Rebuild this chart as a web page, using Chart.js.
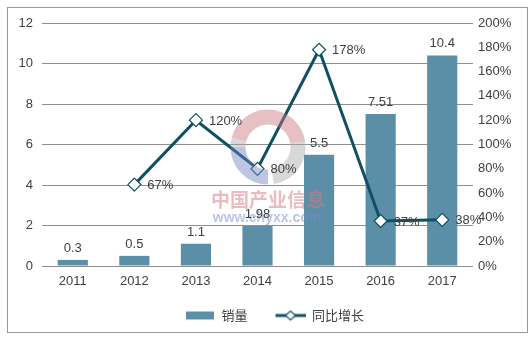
<!DOCTYPE html>
<html>
<head>
<meta charset="utf-8">
<script src="https://cdn.jsdelivr.net/npm/chart.js@4.4.1/dist/chart.umd.min.js"></script>
<style>
  html, body { margin: 0; padding: 0; background: #fff; }
  #wrap { width: 531px; height: 339px; }
</style>
</head>
<body>
<div id="wrap"><canvas id="chart" width="531" height="339"></canvas></div>
<script>
// categories and values
const years = ["2011", "2012", "2013", "2014", "2015", "2016", "2017"];
const sales = [0.3, 0.5, 1.1, 1.98, 5.5, 7.51, 10.4];
const growth = [null, 67, 120, 80, 178, 37, 38];

const barColor = "#5b8fa7";
const lineColor = "#0f5064";
const textColor = "#404040";
const fontFamily = "'Liberation Sans', Arial, sans-serif";

// small swatches for the legend (left part left empty as spacing)
function makeSwatch(kind) {
    const c = document.createElement("canvas");
    c.width = 48;
    c.height = 12;
    const g = c.getContext("2d");
    const x0 = 18;
    if (kind === "bar") {
        g.fillStyle = barColor;
        g.fillRect(x0 + 1, 2, 28, 8);
    } else {
        g.strokeStyle = lineColor;
        g.lineWidth = 3;
        g.beginPath();
        g.moveTo(x0, 6);
        g.lineTo(x0 + 30, 6);
        g.stroke();
        g.fillStyle = "#fff";
        g.lineWidth = 1.2;
        g.beginPath();
        g.moveTo(x0 + 10, 6);
        g.lineTo(x0 + 15, 1.5);
        g.lineTo(x0 + 20, 6);
        g.lineTo(x0 + 15, 10.5);
        g.closePath();
        g.fill();
        g.stroke();
    }
    return c;
}
const swatches = [makeSwatch("bar"), makeSwatch("line")];

// frame + white background
const framePlugin = {
    id: "frame",
    beforeDraw(chart) {
        const ctx = chart.ctx;
        ctx.save();
        ctx.fillStyle = "#fff";
        ctx.fillRect(0, 0, chart.width, chart.height);
        ctx.strokeStyle = "#9a9a9a";
        ctx.lineWidth = 1;
        ctx.strokeRect(7.5, 7.5, 520, 325);
        ctx.restore();
    }
};

// value labels: above bars, right of line points
const labelPlugin = {
    id: "valueLabels",
    afterDatasetsDraw(chart) {
        const ctx = chart.ctx;
        ctx.save();
        ctx.font = "13px " + fontFamily;
        ctx.fillStyle = textColor;
        chart.getDatasetMeta(0).data.forEach((bar, i) => {
            ctx.textAlign = "center";
            ctx.textBaseline = "bottom";
            ctx.fillText(String(sales[i]), bar.x, bar.y - 5);
        });
        chart.getDatasetMeta(1).data.forEach((pt, i) => {
            if (growth[i] === null) return;
            ctx.textAlign = "left";
            ctx.textBaseline = "middle";
            ctx.fillText(growth[i] + "%", pt.x + 13, pt.y + 1);
        });
        ctx.restore();
    }
};

// faint site watermark in the middle
const watermarkPlugin = {
    id: "watermark",
    afterDatasetsDraw(chart) {
        const ctx = chart.ctx;
        const cx = 268, cy = 147, r = 30;
        ctx.save();
        ctx.globalAlpha = 0.45;
        ctx.lineWidth = 15;
        const arcs = [
            ["#c9747c", Math.PI * 1.08, Math.PI * 1.95],
            ["#a9a9a9", Math.PI * 1.95, Math.PI * 2.45],
            ["#6f7fc4", Math.PI * 0.5, Math.PI * 1.0],
            ["#a9a9a9", Math.PI * 1.0, Math.PI * 1.08]
        ];
        arcs.forEach(([col, a0, a1]) => {
            ctx.strokeStyle = col;
            ctx.beginPath();
            ctx.arc(cx, cy, r, a0, a1);
            ctx.stroke();
        });
        ctx.globalAlpha = 0.5;
        ctx.textAlign = "center";
        ctx.textBaseline = "middle";
        ctx.fillStyle = "#d9777f";
        ctx.font = "bold 19px 'Noto Sans CJK SC', sans-serif";
        ctx.fillText("中国产业信息", 268, 200);
        ctx.fillStyle = "#7a88d0";
        ctx.font = "bold 14px " + fontFamily;
        ctx.fillText("www.chyxx.com", 267, 218);
        ctx.restore();
    }
};

new Chart(document.getElementById("chart"), {
    plugins: [framePlugin, watermarkPlugin, labelPlugin],
    data: {
        labels: years,
        datasets: [
            {
                type: "bar",
                label: "销量",
                data: sales,
                backgroundColor: barColor,
                yAxisID: "y",
                barPercentage: 0.49,
                categoryPercentage: 1,
                order: 2
            },
            {
                type: "line",
                label: "同比增长",
                data: growth,
                yAxisID: "y1",
                borderColor: lineColor,
                borderWidth: 3,
                tension: 0,
                pointStyle: "rectRot",
                pointRadius: 6.5,
                pointBackgroundColor: "#fff",
                pointBorderColor: lineColor,
                pointBorderWidth: 1.2,
                order: 1
            }
        ]
    },
    options: {
        responsive: false,
        animation: false,
        layout: { padding: { top: 23, left: 0, right: 0, bottom: 7 } },
        plugins: {
            tooltip: { enabled: false },
            legend: {
                position: "bottom",
                labels: {
                    usePointStyle: true,
                    pointStyleWidth: 48,
                    padding: 10,
                    color: textColor,
                    font: { size: 13, family: "'Noto Sans CJK SC', sans-serif" },
                    sort: (a, b) => a.datasetIndex - b.datasetIndex,
                    generateLabels(chart) {
                        const items = Chart.defaults.plugins.legend.labels.generateLabels(chart);
                        items.forEach((it) => { it.pointStyle = swatches[it.datasetIndex]; });
                        return items;
                    }
                }
            }
        },
        scales: {
            x: {
                grid: { display: false, drawTicks: false },
                border: { display: false },
                ticks: { color: textColor, font: { size: 13, family: fontFamily }, padding: 8 },
                afterFit(scale) { scale.height = 33; }
            },
            y: {
                position: "left",
                min: 0,
                max: 12,
                ticks: { stepSize: 2, color: textColor, font: { size: 13, family: fontFamily }, padding: 9 },
                grid: { color: "#8f8f8f", drawTicks: false },
                border: { display: false },
                afterFit(scale) { scale.width = 42; }
            },
            y1: {
                position: "right",
                min: 0,
                max: 200,
                ticks: {
                    stepSize: 20,
                    color: textColor,
                    font: { size: 13, family: fontFamily },
                    padding: 5,
                    callback: (v) => v + "%"
                },
                grid: { display: false, drawTicks: false },
                border: { display: false },
                afterFit(scale) { scale.width = 58; }
            }
        }
    }
});
</script>
</body>
</html>
